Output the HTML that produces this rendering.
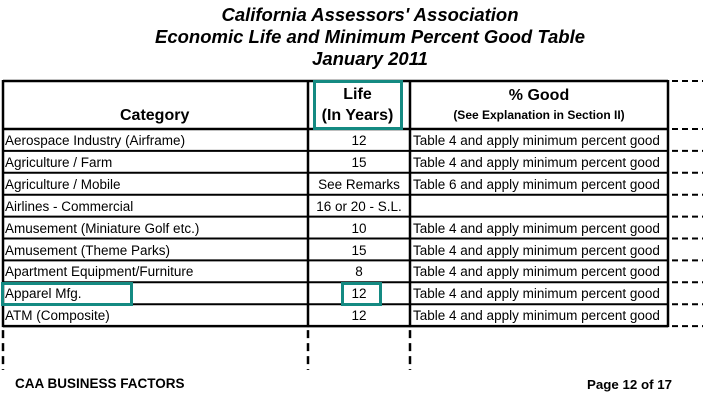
<!DOCTYPE html>
<html><head><meta charset="utf-8"><style>
body{margin:0;width:703px;height:413px;background:#fff;position:relative;font-family:"Liberation Sans",Arial,sans-serif;overflow:hidden}
.t{position:absolute;left:0;width:740px;text-align:center;font-weight:bold;font-style:italic;font-size:18.5px;color:#000}
.a{position:absolute;font-size:13.5px;color:#000;white-space:nowrap}
.box{position:absolute;border:3px solid #148a82;box-sizing:border-box}
</style></head><body>
<div class="t" style="top:4px">California Assessors' Association</div>
<div class="t" style="top:26px">Economic Life and Minimum Percent Good Table</div>
<div class="t" style="top:48px">January 2011</div>
<svg width="703" height="413" style="position:absolute;left:0;top:0" id="g"></svg>
<div class="a" style="left:120px;top:107px;font-size:16px;font-weight:bold">Category</div>
<div class="a" style="left:313px;width:89px;top:84px;font-size:16px;font-weight:bold;text-align:center;line-height:21px">Life<br>(In Years)</div>
<div class="a" style="left:410px;width:258px;top:87px;font-size:16px;font-weight:bold;text-align:center">% Good</div>
<div class="a" style="left:410px;width:258px;top:108px;font-size:12px;font-weight:bold;text-align:center">(See Explanation in Section II)</div>
<div id="rows"></div>
<div class="box" style="left:313px;top:80px;width:90px;height:50px"></div>
<div class="box" style="left:1px;top:282px;width:132px;height:24px"></div>
<div class="box" style="left:341px;top:282px;width:41px;height:24px"></div>
<div class="a" style="left:15px;top:376px;font-weight:bold;font-size:13.5px">CAA BUSINESS FACTORS</div>
<div class="a" style="left:587px;top:377px;font-weight:bold;font-size:13.3px">Page 12 of 17</div>
<script>
const cats=["Aerospace Industry (Airframe)","Agriculture / Farm","Agriculture / Mobile","Airlines - Commercial","Amusement (Miniature Golf etc.)","Amusement (Theme Parks)","Apartment Equipment/Furniture","Apparel Mfg.","ATM (Composite)"];
const lives=["12","15","See Remarks","16 or 20 - S.L.","10","15","8","12","12"];
const goods=["Table 4 and apply minimum percent good","Table 4 and apply minimum percent good","Table 6 and apply minimum percent good","","Table 4 and apply minimum percent good","Table 4 and apply minimum percent good","Table 4 and apply minimum percent good","Table 4 and apply minimum percent good","Table 4 and apply minimum percent good"];
const top0=129,rh=21.9,L=3,C1=308,C2=410,R=668;
const g=document.getElementById('g'),ns='http://www.w3.org/2000/svg';
function ln(x1,y1,x2,y2,w,d){const e=document.createElementNS(ns,'line');e.setAttribute('x1',x1);e.setAttribute('y1',y1);e.setAttribute('x2',x2);e.setAttribute('y2',y2);e.setAttribute('stroke','#000');e.setAttribute('stroke-width',w);if(d)e.setAttribute('stroke-dasharray',d);


g.appendChild(e);}
const bot=top0+rh*cats.length;
ln(L,81,R,81,2.5);ln(L,top0,R,top0,2.5);
for(let i=1;i<cats.length;i++)ln(L,top0+rh*i,R,top0+rh*i,2);
ln(L,bot,R,bot,2.5);
[L,C1,C2,R].forEach(x=>ln(x,80,x,bot+1,2.5));
for(let i=0;i<=cats.length+1;i++){const y=i==0?81:top0+rh*(i-1);ln(R+4,y,703,y,2,'6,4');}
[L,C1,C2].forEach(x=>ln(x,bot+4,x,370,2.5,'8,5'));
const rows=document.getElementById('rows');
cats.forEach((c,i)=>{const y=top0+rh*i+4;
[[c,L+2,null],[lives[i],C1,C2-C1],[goods[i],C2+3,null]].forEach((v,k)=>{const d=document.createElement('div');d.className='a';d.textContent=v[0];d.style.left=v[1]+'px';d.style.top=y+'px';if(v[2]){d.style.width=v[2]+'px';d.style.textAlign='center';}


rows.appendChild(d);});});
</script>
</body></html>
